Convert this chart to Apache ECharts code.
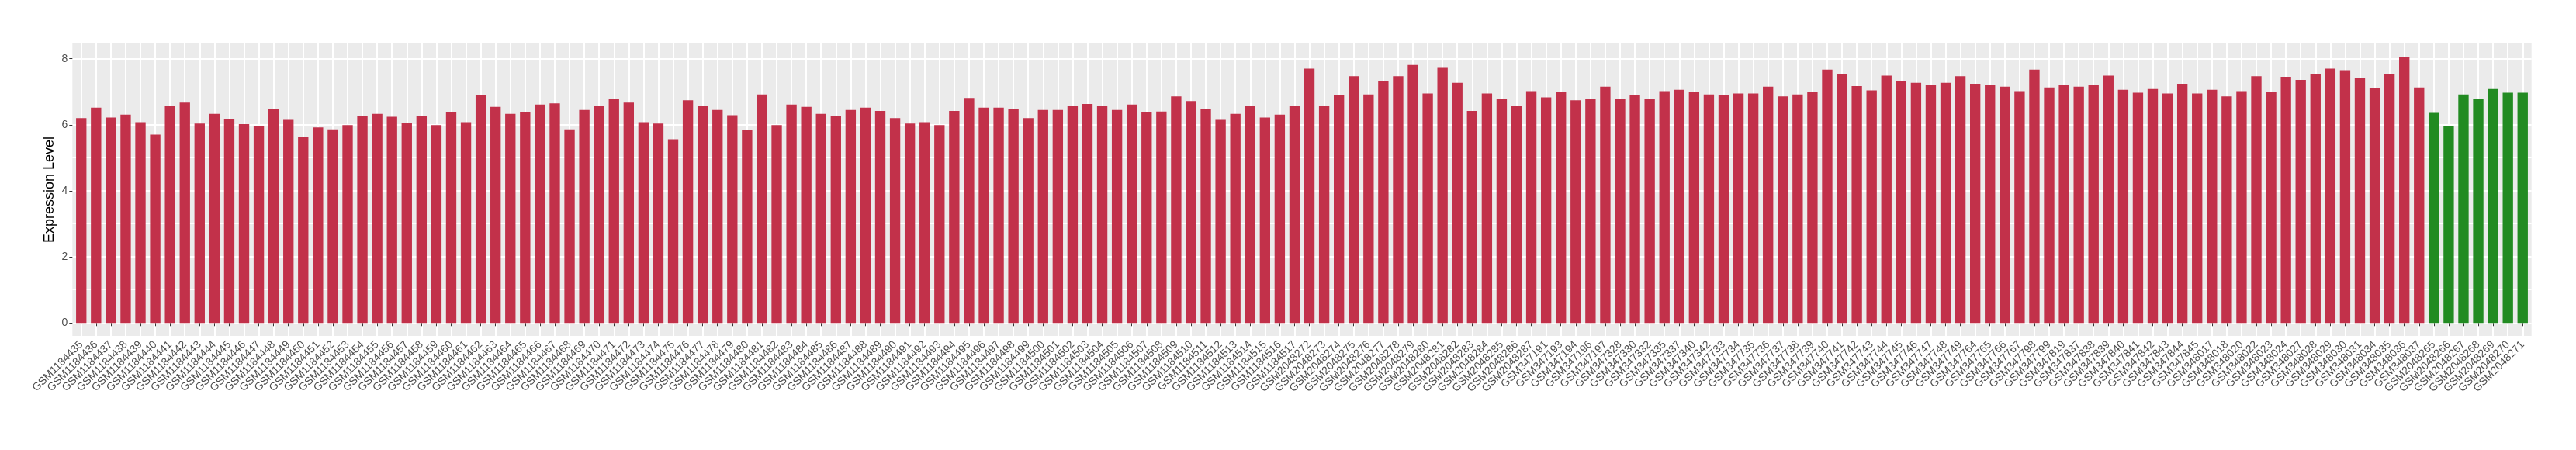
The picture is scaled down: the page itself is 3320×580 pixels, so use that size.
<!DOCTYPE html>
<html>
<head>
<meta charset="utf-8">
<script src="https://cdn.jsdelivr.net/npm/echarts@6/dist/echarts.min.js"></script>
<style>
html,body{margin:0;padding:0;background:#fff;}
#chart{width:3320px;height:580px;}
</style>
</head>
<body>
<div id="chart"></div>
<script>
// Categories
const catsGSM1184 = ['GSM1184435','GSM1184436','GSM1184437','GSM1184438','GSM1184439','GSM1184440','GSM1184441','GSM1184442','GSM1184443','GSM1184444','GSM1184445','GSM1184446','GSM1184447','GSM1184448','GSM1184449','GSM1184450','GSM1184451','GSM1184452','GSM1184453','GSM1184454','GSM1184455','GSM1184456','GSM1184457','GSM1184458','GSM1184459','GSM1184460','GSM1184461','GSM1184462','GSM1184463','GSM1184464','GSM1184465','GSM1184466','GSM1184467','GSM1184468','GSM1184469','GSM1184470','GSM1184471','GSM1184472','GSM1184473','GSM1184474','GSM1184475','GSM1184476','GSM1184477','GSM1184478','GSM1184479','GSM1184480','GSM1184481','GSM1184482','GSM1184483','GSM1184484','GSM1184485','GSM1184486','GSM1184487','GSM1184488','GSM1184489','GSM1184490','GSM1184491','GSM1184492','GSM1184493','GSM1184494','GSM1184495','GSM1184496','GSM1184497','GSM1184498','GSM1184499','GSM1184500','GSM1184501','GSM1184502','GSM1184503','GSM1184504','GSM1184505','GSM1184506','GSM1184507','GSM1184508','GSM1184509','GSM1184510','GSM1184511','GSM1184512','GSM1184513','GSM1184514','GSM1184515','GSM1184516','GSM1184517'];
const catsGSM2048a = ['GSM2048272','GSM2048273','GSM2048274','GSM2048275','GSM2048276','GSM2048277','GSM2048278','GSM2048279','GSM2048280','GSM2048281','GSM2048282','GSM2048283','GSM2048284','GSM2048285','GSM2048286','GSM2048287'];
const catsGSM347 = ['GSM347191','GSM347193','GSM347194','GSM347196','GSM347197','GSM347328','GSM347330','GSM347332','GSM347335','GSM347337','GSM347340','GSM347342','GSM347733','GSM347734','GSM347735','GSM347736','GSM347737','GSM347738','GSM347739','GSM347740','GSM347741','GSM347742','GSM347743','GSM347744','GSM347745','GSM347746','GSM347747','GSM347748','GSM347749','GSM347764','GSM347765','GSM347766','GSM347767','GSM347798','GSM347799','GSM347819','GSM347837','GSM347838','GSM347839','GSM347840','GSM347841','GSM347842','GSM347843','GSM347844','GSM347845','GSM348017','GSM348018','GSM348020','GSM348022','GSM348023','GSM348024','GSM348027','GSM348028','GSM348029','GSM348030','GSM348031','GSM348034','GSM348035','GSM348036','GSM348037'];
const catsGreen = ['GSM2048265','GSM2048266','GSM2048267','GSM2048268','GSM2048269','GSM2048270','GSM2048271'];

// Values (expression level)
const valsGSM1184 = [6.20,6.52,6.22,6.31,6.08,5.70,6.58,6.67,6.04,6.33,6.17,6.02,5.97,6.49,6.15,5.63,5.92,5.86,5.99,6.27,6.33,6.24,6.06,6.27,5.99,6.38,6.08,6.90,6.54,6.33,6.38,6.61,6.65,5.86,6.45,6.56,6.77,6.67,6.08,6.04,5.56,6.74,
  6.56,6.45,6.29,5.83,6.92,5.99,6.61,6.54,6.33,6.27,6.45,6.52,6.42,6.20,6.04,6.08,5.99,6.42,6.81,6.52,6.52,6.49,6.20,6.45,6.45,6.58,6.63,6.58,6.45,6.61,6.38,6.40,6.86,6.72,6.49,6.15,6.33,6.56,6.22,6.31,6.58];
const valsGSM2048a = [7.70,6.58,6.90,7.47,6.92,7.31,7.47,7.81,6.95,7.72,7.27,6.42,6.95,6.79,6.58,7.02];
const valsGSM347 = [6.83,6.99,6.74,6.79,7.15,6.77,6.90,6.77,7.02,7.06,6.99,6.92,6.90,6.95,6.95,7.15,6.86,6.92,6.99,7.67,7.54,7.17,7.04,7.49,7.33,7.27,7.20,
  7.27,7.47,7.24,7.20,7.15,7.02,7.67,7.13,7.22,7.15,7.20,7.49,7.06,6.97,7.08,6.95,7.24,6.95,7.06,6.86,7.02,7.47,6.99,7.45,7.36,7.52,7.70,7.65,7.42,7.11,7.54,8.06,7.13];
const valsGreen = [6.36,5.95,6.92,6.77,7.08,6.97,6.97];

// Y tick labels
const yTicks = [0, 2, 4, 6, 8];

const redCats = catsGSM1184.concat(catsGSM2048a, catsGSM347);
const redVals = valsGSM1184.concat(valsGSM2048a, valsGSM347);
const categories = redCats.concat(catsGreen);
const redData = redVals.concat(catsGreen.map(() => null));
const greenData = redCats.map(() => null).concat(valsGreen);

const FONT = '"Liberation Sans", Arial, Helvetica, sans-serif';
const chart = echarts.init(document.getElementById('chart'), null, {renderer: 'canvas'});

const panelL = 93.3, panelR = 3262.7, panelT = 56, panelB = 433;
const step = (panelR - panelL) / (categories.length + 0.2);

chart.setOption({
  backgroundColor: '#ffffff',
  animation: false,
  grid: [
    {left: panelL, width: panelR - panelL, top: panelT, height: panelB - panelT,
     show: true, backgroundColor: '#EBEBEB', borderWidth: 0, z: -1, outerBoundsMode: 'none', containLabel: false},
    {left: panelL, width: panelR - panelL, top: 75.67, height: 416.3 - 75.67,
     show: false, outerBoundsMode: 'none', containLabel: false},
    {left: panelL + 0.1 * step, width: categories.length * step, top: panelT, height: panelB - panelT,
     show: false, outerBoundsMode: 'none', containLabel: false}
  ],
  xAxis: [
    {type: 'value', gridIndex: 0, show: false},
    {type: 'value', gridIndex: 1, show: false},
    {type: 'category', gridIndex: 2, data: categories, boundaryGap: true, z: 1,
     axisLine: {show: false},
     axisTick: {show: true, alignWithLabel: true, interval: 0, length: 4, lineStyle: {color: '#333333', width: 1}},
     splitLine: {show: true, alignWithLabel: true, interval: 0, lineStyle: {color: '#FFFFFF', width: 2}},
     axisLabel: {show: true, interval: 0, rotate: 45, margin: 9, hideOverlap: false,
       fontFamily: FONT, fontSize: 14, color: '#4D4D4D'}}
  ],
  yAxis: [
    {type: 'value', gridIndex: 0, show: false},
    {type: 'value', gridIndex: 1, min: yTicks[0], max: yTicks[yTicks.length - 1], interval: 2, z: 1,
     axisLine: {show: false},
     axisTick: {show: true, length: 4, lineStyle: {color: '#333333', width: 1}},
     axisLabel: {show: true, margin: 6, fontFamily: FONT, fontSize: 14, color: '#4D4D4D'},
     splitLine: {show: true, lineStyle: {color: '#FFFFFF', width: 2}},
     minorTick: {show: false, splitNumber: 2},
     minorSplitLine: {show: true, lineStyle: {color: '#FFFFFF', width: 1}}},
    {type: 'value', gridIndex: 2, min: -0.392, max: 8.462,
     name: 'Expression Level', nameLocation: 'middle', nameGap: 22,
     nameTextStyle: {fontFamily: FONT, fontSize: 18, color: '#000000'},
     axisLine: {show: false}, axisTick: {show: false}, axisLabel: {show: false},
     splitLine: {show: false}}
  ],
  series: [
    {type: 'bar', name: 'red', xAxisIndex: 2, yAxisIndex: 2, data: redData,
     barWidth: '70%', barGap: '-100%', itemStyle: {color: '#C2314A'}, z: 2},
    {type: 'bar', name: 'green', xAxisIndex: 2, yAxisIndex: 2, data: greenData,
     barWidth: '70%', barGap: '-100%', itemStyle: {color: '#228B22'}, z: 2}
  ]
});
</script>
</body>
</html>
